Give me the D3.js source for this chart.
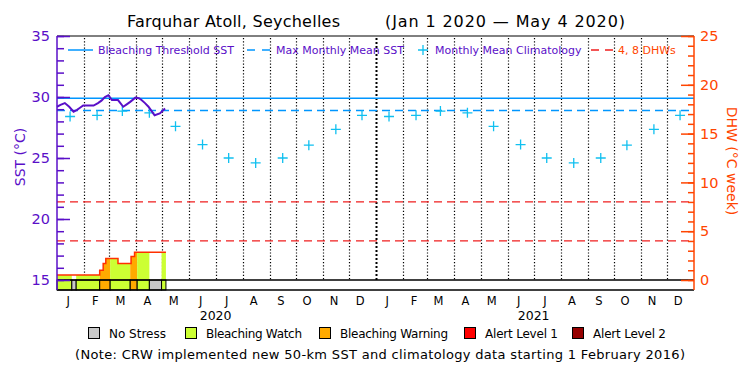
<!DOCTYPE html>
<html>
<head>
<meta charset="utf-8">
<script src="https://cdn.jsdelivr.net/npm/d3@7"></script>
<style>
  body { margin: 0; background: #fff; }
  svg text { font-family: "DejaVu Sans", sans-serif; }
</style>
</head>
<body>
<svg id="chart" width="750" height="375"></svg>
<script>
// monthly climatology (Jan..Dec), repeated for both years
const monthLabels = ["J", "F", "M", "A", "M", "J", "J", "A", "S", "O", "N", "D"];
const yearLabels = ["2020", "2021"];
const climatology = [28.4, 28.5, 28.85, 28.7, 27.6, 26.1, 25.0, 24.6, 25.0, 26.05, 27.35, 28.5];

const mmm = 28.9;
const threshold = 29.9;
const dhwLevels = [4, 8];

// daily SST
const sstDates = ["2020-01-01", "2020-01-05", "2020-01-10", "2020-01-15", "2020-01-20", "2020-01-24",
    "2020-01-27", "2020-01-31", "2020-02-06", "2020-02-12", "2020-02-17", "2020-02-21", "2020-02-25",
    "2020-02-29", "2020-03-04", "2020-03-11", "2020-03-17", "2020-03-21", "2020-03-25", "2020-03-31",
    "2020-04-04", "2020-04-07", "2020-04-11", "2020-04-15", "2020-04-19", "2020-04-22", "2020-04-28",
    "2020-05-04"];
const sstValues = [29.2, 29.35, 29.5, 29.2, 28.8, 28.95, 29.1, 29.3, 29.3, 29.3, 29.5, 29.7, 30.0,
    30.15, 29.75, 29.75, 29.2, 29.4, 29.6, 29.95, 29.9, 29.75, 29.5, 29.2, 28.8, 28.5, 28.65, 29.05];

// degree heating weeks, step values
const dhwDates = ["2020-01-01", "2020-02-19", "2020-02-23", "2020-02-26", "2020-03-11",
    "2020-03-26", "2020-03-30", "2020-05-05"];
const dhwValues = [0.5, 1.0, 1.7, 2.2, 1.7, 2.4, 2.85, 2.85];

// daily stress level periods (0 none, 1 watch, 2 warning, 3 alert 1, 4 alert 2)
const stressStarts = ["2020-01-01", "2020-01-18", "2020-01-23", "2020-02-19", "2020-03-02",
    "2020-03-25", "2020-04-02", "2020-04-16", "2020-04-30"];
const stressLevels = [1, 0, 1, 2, 1, 2, 1, 0, 1];
const stressEnd = "2020-05-05";

const legendNames = ["No Stress", "Bleaching Watch", "Bleaching Warning", "Alert Level 1", "Alert Level 2"];
const legendWidths = [57, 96, 108, 73, 73];
const levelColors = ["#c8c8c8", "#ccff33", "#ffaa00", "#ff0000", "#960000"];

const purple = "#5a0fc8";
const orange = "#ff4500";
const blue = "#0096ff";
const cyan = "#10c0f0";
const red = "#f01e1e";

const parse = d3.timeParse("%Y-%m-%d");
const svg = d3.select("#chart");

const plotLeft = 57, plotRight = 694, plotTop = 36, zeroY = 280, plotBottom = 290;

const x = d3.scaleTime()
    .domain([new Date(2020, 0, 1), new Date(2022, 0, 1)])
    .range([plotLeft, plotRight]);
const ySST = d3.scaleLinear().domain([15, 35]).range([zeroY, plotTop]);
const yDHW = d3.scaleLinear().domain([0, 25]).range([zeroY, plotTop]);

// title
svg.append("text").attr("x", 127).attr("y", 27).attr("font-size", 16)
    .attr("textLength", 213)
    .text("Farquhar Atoll, Seychelles");
svg.append("text").attr("x", 385).attr("y", 27).attr("font-size", 16)
    .attr("textLength", 240)
    .text("(Jan 1 2020 \u2014 May 4 2020)");

// month boundary dotted lines
const months = d3.timeMonth.range(new Date(2020, 1, 1), new Date(2022, 0, 1));
svg.append("g")
    .selectAll("line")
    .data(months)
    .enter()
    .append("line")
    .attr("x1", (d) => Math.round(x(d)) + 0.5)
    .attr("x2", (d) => Math.round(x(d)) + 0.5)
    .attr("y1", plotTop + 2)
    .attr("y2", zeroY)
    .attr("stroke", "#000")
    .attr("stroke-width", (d) => (d.getMonth() === 0 ? 2 : 1.2))
    .attr("stroke-dasharray", (d) => (d.getMonth() === 0 ? "2,2" : "1.2,2"));

// DHW fill coloured by stress level
const stress = stressStarts.map((s, i) => ({
    start: parse(s),
    end: parse(i < stressStarts.length - 1 ? stressStarts[i + 1] : stressEnd),
    level: stressLevels[i]
}));
const dhw = dhwDates.map((d, i) => ({ date: parse(d), v: dhwValues[i] }));
const dhwAt = (date) => {
    let v = 0;
    dhw.forEach((p) => {
        if (p.date <= date) v = p.v;
    });
    return v;
};

const dhwArea = d3.area()
    .curve(d3.curveStepAfter)
    .x((d) => x(d.date))
    .y0(yDHW(0))
    .y1((d) => yDHW(d.v));

svg.append("g").selectAll("path")
    .data(stress.filter((p) => p.level > 0))
    .enter()
    .append("path")
    .attr("fill", (p) => levelColors[p.level])
    .attr("d", (p) => {
        const pts = [{ date: p.start, v: dhwAt(p.start) }];
        dhw.forEach((q) => {
            if (q.date > p.start && q.date < p.end) pts.push(q);
        });
        pts.push({ date: p.end, v: dhwAt(p.end) });
        return dhwArea(pts);
    });

// stress level band
svg.append("g").selectAll("rect")
    .data(stress)
    .enter()
    .append("rect")
    .attr("x", (p) => x(p.start))
    .attr("y", zeroY)
    .attr("width", (p) => x(p.end) - x(p.start))
    .attr("height", plotBottom - zeroY)
    .attr("fill", (p) => levelColors[p.level])
    .attr("stroke", "#000");

// DHW step line
svg.append("path")
    .datum(dhw)
    .attr("fill", "none")
    .attr("stroke", "#ff3000")
    .attr("stroke-width", 1.5)
    .attr("d", d3.line().curve(d3.curveStepAfter).x((d) => x(d.date)).y((d) => yDHW(d.v)));

// 4 and 8 DHW lines
svg.append("g").selectAll("line")
    .data(dhwLevels)
    .enter()
    .append("line")
    .attr("x1", plotLeft)
    .attr("x2", plotRight)
    .attr("y1", (d) => yDHW(d))
    .attr("y2", (d) => yDHW(d))
    .attr("stroke", red)
    .attr("stroke-width", 1.2)
    .attr("stroke-dasharray", "8,5");

// threshold and MMM
svg.append("line")
    .attr("x1", plotLeft).attr("x2", plotRight)
    .attr("y1", ySST(threshold)).attr("y2", ySST(threshold))
    .attr("stroke", blue).attr("stroke-width", 1.5);
svg.append("line")
    .attr("x1", plotLeft).attr("x2", plotRight)
    .attr("y1", ySST(mmm)).attr("y2", ySST(mmm))
    .attr("stroke", blue).attr("stroke-width", 1.5)
    .attr("stroke-dasharray", "8,5");

// climatology crosses
const climPoints = [];
yearLabels.forEach((yr) => {
    climatology.forEach((v, m) => {
        climPoints.push({ date: new Date(+yr, m, 16), v: v });
    });
});
svg.append("g").selectAll("path")
    .data(climPoints)
    .enter()
    .append("path")
    .attr("transform", (d) => `translate(${x(d.date)}, ${ySST(d.v)})`)
    .attr("d", "M-5,0H5M0,-5V5")
    .attr("stroke", cyan)
    .attr("stroke-width", 1.3);

// SST line
const sst = sstDates.map((d, i) => ({ date: parse(d), v: sstValues[i] }));
svg.append("path")
    .datum(sst)
    .attr("fill", "none")
    .attr("stroke", purple)
    .attr("stroke-width", 2)
    .attr("d", d3.line().x((d) => x(d.date)).y((d) => ySST(d.v)));

// frame
svg.append("line").attr("x1", plotLeft).attr("x2", plotRight).attr("y1", plotTop).attr("y2", plotTop)
    .attr("stroke", "#000");
svg.append("line").attr("x1", plotLeft).attr("x2", plotRight).attr("y1", zeroY).attr("y2", zeroY)
    .attr("stroke", "#000").attr("stroke-width", 1.5);
svg.append("line").attr("x1", plotLeft).attr("x2", plotRight).attr("y1", plotBottom).attr("y2", plotBottom)
    .attr("stroke", "#000").attr("stroke-width", 1.5);

// left axis (SST)
const leftAxis = svg.append("g").attr("transform", `translate(${plotLeft},0)`);
leftAxis.call(d3.axisLeft(ySST).ticks(20).tickSizeInner(-7).tickSizeOuter(0).tickFormat(""));
leftAxis.append("g").call(d3.axisLeft(ySST).tickValues([15, 20, 25, 30, 35]).tickSizeInner(-13)
    .tickSizeOuter(0).tickPadding(7));
leftAxis.selectAll("line").attr("stroke", purple).attr("stroke-width", 1.5);
leftAxis.selectAll("path").remove();
leftAxis.selectAll("text").attr("fill", purple).attr("font-size", 14.5)
    .attr("font-family", "DejaVu Sans");
svg.append("line").attr("x1", plotLeft).attr("x2", plotLeft).attr("y1", plotTop).attr("y2", plotBottom)
    .attr("stroke", purple).attr("stroke-width", 1.5);
svg.append("text")
    .attr("transform", "translate(25,157) rotate(-90)")
    .attr("text-anchor", "middle")
    .attr("fill", purple)
    .attr("font-size", 14)
    .text("SST (\u00b0C)");

// right axis (DHW)
const rightAxis = svg.append("g").attr("transform", `translate(${plotRight},0)`);
rightAxis.call(d3.axisRight(yDHW).ticks(25).tickSizeInner(-6).tickSizeOuter(0).tickFormat(""));
rightAxis.append("g").call(d3.axisRight(yDHW).tickValues([0, 5, 10, 15, 20, 25]).tickSizeInner(-13)
    .tickSizeOuter(0).tickPadding(6));
rightAxis.selectAll("line").attr("stroke", orange).attr("stroke-width", 1.5);
rightAxis.selectAll("path").remove();
rightAxis.selectAll("text").attr("fill", orange).attr("font-size", 14.5)
    .attr("font-family", "DejaVu Sans");
svg.append("line").attr("x1", plotRight).attr("x2", plotRight).attr("y1", plotTop).attr("y2", plotBottom)
    .attr("stroke", orange).attr("stroke-width", 1.5);
svg.append("text")
    .attr("transform", "translate(727,161) rotate(90)")
    .attr("text-anchor", "middle")
    .attr("fill", orange)
    .attr("font-size", 14)
    .text("DHW (\u00b0C week)");

// month and year labels
const monthTicks = [];
yearLabels.forEach((yr) => {
    monthLabels.forEach((m, i) => {
        monthTicks.push({ label: m, date: new Date(+yr, i, 15) });
    });
});
svg.append("g").selectAll("text")
    .data(monthTicks)
    .enter()
    .append("text")
    .attr("x", (d) => x(d.date) - 1)
    .attr("y", 305)
    .attr("text-anchor", "middle")
    .attr("font-size", 11.5)
    .text((d) => d.label);
svg.append("g").selectAll("text")
    .data(yearLabels)
    .enter()
    .append("text")
    .attr("x", (d) => x(new Date(+d, 6, 1)))
    .attr("y", 320)
    .attr("text-anchor", "middle")
    .attr("font-size", 12.5)
    .text((d) => d);

// top legend
const lg = svg.append("g").attr("font-size", 11);
lg.append("line").attr("x1", 68).attr("x2", 93).attr("y1", 50).attr("y2", 50)
    .attr("stroke", blue).attr("stroke-width", 1.5);
lg.append("text").attr("x", 98).attr("y", 54).attr("fill", purple).text("Bleaching Threshold SST");
lg.append("line").attr("x1", 247).attr("x2", 270).attr("y1", 50).attr("y2", 50)
    .attr("stroke", blue).attr("stroke-width", 1.5).attr("stroke-dasharray", "8,7");
lg.append("text").attr("x", 276).attr("y", 54).attr("fill", purple).text("Max Monthly Mean SST");
lg.append("path").attr("d", "M418,50H428M423,45V55").attr("stroke", cyan).attr("stroke-width", 1.3);
lg.append("text").attr("x", 435).attr("y", 54).attr("fill", purple).text("Monthly Mean Climatology");
lg.append("line").attr("x1", 591).attr("x2", 613).attr("y1", 50).attr("y2", 50)
    .attr("stroke", red).attr("stroke-width", 1.5).attr("stroke-dasharray", "8,6");
lg.append("text").attr("x", 618).attr("y", 54).attr("fill", orange).text("4, 8 DHWs");

// bottom legend
const boxX = [88, 185, 319, 464, 572];
const bl = svg.append("g").attr("font-size", 12);
bl.selectAll("rect")
    .data(legendNames)
    .enter()
    .append("rect")
    .attr("x", (d, i) => boxX[i] + 0.5)
    .attr("y", 327.5)
    .attr("width", 11)
    .attr("height", 11)
    .attr("fill", (d, i) => levelColors[i])
    .attr("stroke", "#000");
bl.selectAll("text")
    .data(legendNames)
    .enter()
    .append("text")
    .attr("x", (d, i) => boxX[i] + 21)
    .attr("y", 338)
    .attr("textLength", (d, i) => legendWidths[i])
    .text((d) => d);

svg.append("text")
    .attr("x", 75)
    .attr("y", 359)
    .attr("font-size", 13)
    .attr("textLength", 610)
    .text("(Note: CRW implemented new 50-km SST and climatology data starting 1 February 2016)");
</script>
</body>
</html>
